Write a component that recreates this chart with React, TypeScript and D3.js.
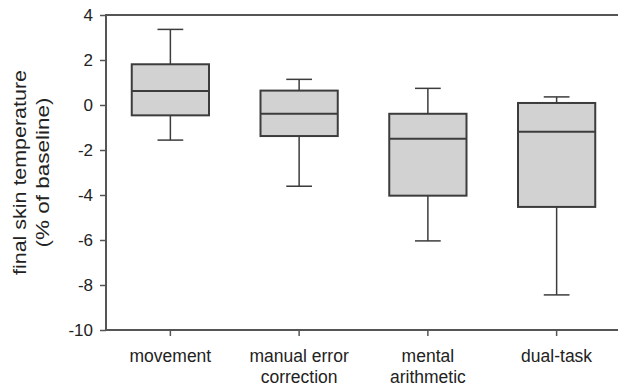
import { useEffect, useRef } from 'react';
import * as d3 from 'd3';

const categories = ['movement', 'manual error correction', 'mental arithmetic', 'dual-task'];
const categoryLines = [['movement'], ['manual error', 'correction'], ['mental', 'arithmetic'], ['dual-task']];
const whiskerLow = [-1.56, -3.61, -6.04, -8.44];
const q1 = [-0.46, -1.38, -4.03, -4.53];
const medians = [0.62, -0.39, -1.5, -1.19];
const q3 = [1.81, 0.64, -0.39, 0.09];
const whiskerHigh = [3.36, 1.14, 0.74, 0.36];
const yTicks = [4, 2, 0, -2, -4, -6, -8, -10];

export default function App() {
  const svgRef = useRef<SVGSVGElement>(null);

  useEffect(() => {
    if (!svgRef.current) return;
    const svg = d3.select(svgRef.current);
    svg.selectAll('*').remove();

    const left = 106;
    const right = 621;
    const top = 15;
    const bottom = 330;
    const stroke = '#3c3c3c';
    const font = 'Liberation Sans, Arial, sans-serif';

    const x = d3.scaleBand().domain(categories).range([left, right]).padding(0);
    const y = d3.scaleLinear().domain([-10, 4]).range([bottom, top]);

    // frame (right side is cut off by the image edge)
    svg.append('path')
      .attr('d', `M${left},${bottom}V${top}H${right}V${bottom}Z`)
      .attr('fill', 'none')
      .attr('stroke', '#555')
      .attr('stroke-width', 2);

    // y axis
    const yAxis = svg.append('g')
      .attr('transform', `translate(${left},0)`)
      .call(d3.axisLeft(y).tickValues(yTicks).tickSize(6).tickPadding(7).tickFormat(d => String(d)));
    yAxis.select('.domain').remove();
    yAxis.selectAll('line').attr('stroke', '#555').attr('stroke-width', 1.5);
    yAxis.selectAll('text')
      .attr('fill', '#222')
      .style('font-family', font)
      .style('font-size', '17px');

    // x axis ticks
    const xAxis = svg.append('g')
      .attr('transform', `translate(0,${bottom})`)
      .call(d3.axisBottom(x).tickSize(6).tickFormat(() => ''));
    xAxis.select('.domain').remove();
    xAxis.selectAll('line').attr('stroke', '#555').attr('stroke-width', 1.5);

    // category labels
    categories.forEach((c, i) => {
      const cx = (x(c) as number) + x.bandwidth() / 2;
      categoryLines[i].forEach((line, j) => {
        svg.append('text')
          .attr('x', cx)
          .attr('y', 362 + j * 21)
          .attr('text-anchor', 'middle')
          .attr('fill', '#222')
          .style('font-family', font)
          .style('font-size', '17.5px')
          .text(line);
      });
    });

    // boxes
    const boxW = x.bandwidth() * 0.6;
    const capW = x.bandwidth() * 0.2;
    const g = svg.append('g');
    categories.forEach((c, i) => {
      const cx = (x(c) as number) + x.bandwidth() / 2;
      g.append('line')
        .attr('x1', cx).attr('x2', cx)
        .attr('y1', y(whiskerLow[i])).attr('y2', y(q1[i]))
        .attr('stroke', stroke).attr('stroke-width', 1.5);
      g.append('line')
        .attr('x1', cx).attr('x2', cx)
        .attr('y1', y(q3[i])).attr('y2', y(whiskerHigh[i]))
        .attr('stroke', stroke).attr('stroke-width', 1.5);
      [whiskerLow[i], whiskerHigh[i]].forEach(v => {
        g.append('line')
          .attr('x1', cx - capW / 2).attr('x2', cx + capW / 2)
          .attr('y1', y(v)).attr('y2', y(v))
          .attr('stroke', stroke).attr('stroke-width', 1.5);
      });
      g.append('rect')
        .attr('x', cx - boxW / 2)
        .attr('y', y(q3[i]))
        .attr('width', boxW)
        .attr('height', y(q1[i]) - y(q3[i]))
        .attr('fill', '#d2d2d2')
        .attr('stroke', stroke)
        .attr('stroke-width', 2);
      g.append('line')
        .attr('x1', cx - boxW / 2).attr('x2', cx + boxW / 2)
        .attr('y1', y(medians[i])).attr('y2', y(medians[i]))
        .attr('stroke', stroke).attr('stroke-width', 2);
    });

    // y label (the reference text is a little stretched along its length)
    const labelLines = ['final skin temperature', '(% of baseline)'];
    const labelLengths = [205, 150];
    const labelX = [26, 49];
    labelLines.forEach((t, i) => {
      svg.append('text')
        .attr('transform', `translate(${labelX[i]},${(top + bottom) / 2}) rotate(-90)`)
        .attr('text-anchor', 'middle')
        .attr('fill', '#222')
        .attr('textLength', labelLengths[i])
        .attr('lengthAdjust', 'spacingAndGlyphs')
        .style('font-family', font)
        .style('font-size', '18px')
        .text(t);
    });
  }, []);

  return (
    <svg
      ref={svgRef}
      width={618}
      height={387}
      style={{ position: 'absolute', left: 0, top: 0, background: '#fff' }}
    />
  );
}
